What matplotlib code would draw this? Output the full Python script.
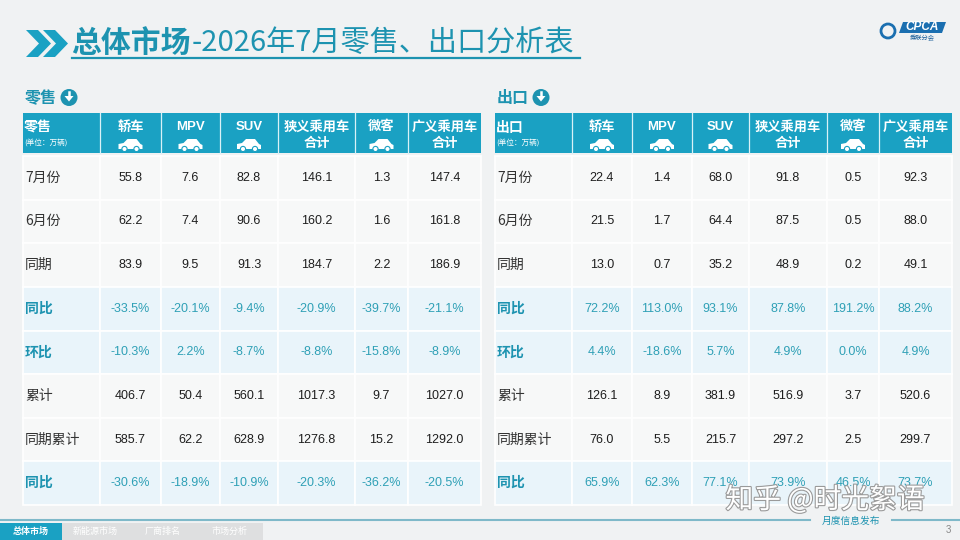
import matplotlib
matplotlib.use("Agg")
from matplotlib import pyplot as plt
from matplotlib.patches import Rectangle, Polygon, Circle
import matplotlib.patheffects as pe

plt.rcParams['font.family'] = ['Liberation Sans', 'Noto Sans CJK SC', 'DejaVu Sans']

# ---- data ----
row_labels = ['7月份', '6月份', '同期', '同比', '环比', '累计', '同期累计', '同比']
col_labels = ['轿车', 'MPV', 'SUV', '狭义乘用车\n合计', '微客', '广义乘用车\n合计']
pct_rows = [3, 4, 7]

retail = [
    ['55.8', '7.6', '82.8', '146.1', '1.3', '147.4'],
    ['62.2', '7.4', '90.6', '160.2', '1.6', '161.8'],
    ['83.9', '9.5', '91.3', '184.7', '2.2', '186.9'],
    ['-33.5%', '-20.1%', '-9.4%', '-20.9%', '-39.7%', '-21.1%'],
    ['-10.3%', '2.2%', '-8.7%', '-8.8%', '-15.8%', '-8.9%'],
    ['406.7', '50.4', '560.1', '1017.3', '9.7', '1027.0'],
    ['585.7', '62.2', '628.9', '1276.8', '15.2', '1292.0'],
    ['-30.6%', '-18.9%', '-10.9%', '-20.3%', '-36.2%', '-20.5%'],
]
export = [
    ['22.4', '1.4', '68.0', '91.8', '0.5', '92.3'],
    ['21.5', '1.7', '64.4', '87.5', '0.5', '88.0'],
    ['13.0', '0.7', '35.2', '48.9', '0.2', '49.1'],
    ['72.2%', '113.0%', '93.1%', '87.8%', '191.2%', '88.2%'],
    ['4.4%', '-18.6%', '5.7%', '4.9%', '0.0%', '4.9%'],
    ['126.1', '8.9', '381.9', '516.9', '3.7', '520.6'],
    ['76.0', '5.5', '215.7', '297.2', '2.5', '299.7'],
    ['65.9%', '62.3%', '77.1%', '73.9%', '46.5%', '73.7%'],
]
tabs = ['总体市场', '新能源市场', '厂商排名', '市场分析']

TEAL = '#1aa1c3'
TEAL_TXT = '#1d93b0'
PCT = '#2fa0b6'
CJK = ['Noto Sans CJK SC', 'DejaVu Sans']

fig = plt.figure(figsize=(9.6, 5.4), dpi=100)
fig.patch.set_facecolor('#f0f2f3')
ax = fig.add_axes([0, 0, 1, 1])
ax.set_xlim(0, 960)
ax.set_ylim(540, 0)
ax.axis('off')

# title
chev = [(0, 0), (12, 0), (25, 13.5), (12, 27), (0, 27), (13, 13.5)]
for dx in (26, 43):
    ax.add_patch(Polygon([(x + dx, y + 30) for x, y in chev], color=TEAL, lw=0))
ax.text(71, 43, '总体市场', fontsize=21.5, fontweight='bold', color=TEAL_TXT,
        family=CJK, va='center', ha='left')
ax.text(192, 43, '-2026年7月零售、出口分析表', fontsize=21, color=TEAL_TXT,
        family=CJK, va='center', ha='left')
ax.plot([72, 580], [57.5, 57.5], color=TEAL_TXT, lw=1.6)

# logo
ax.add_patch(Polygon([(903, 22), (946, 22), (942, 33), (899, 33)], color='#1b6fb0', lw=0))
ax.text(922, 27.5, 'CPCA', fontsize=8.5, fontstyle='italic', fontweight='bold',
        color='white', ha='center', va='center')
ax.text(922, 38, '乘联分会', fontsize=4.5, color='#1b5f9a', family=CJK, ha='center', va='center')
ax.add_patch(Circle((888, 31), 7, facecolor='none', edgecolor='#1b6fb0', lw=2))


def car(cx, cy):
    body = [(-12, 4), (-12, -1), (-7, -2), (-3, -6), (6, -6), (10, -1), (12, 0), (12, 4)]
    ax.add_patch(Polygon([(cx + x, cy + y) for x, y in body], color='white', lw=0))
    for wx in (-6, 6):
        ax.add_patch(Circle((cx + wx, cy + 4), 2.6, facecolor='white', edgecolor=TEAL, lw=0.8))


def table(x0, edges, title, data):
    # section title
    ax.text(x0 + 2, 98, title, fontsize=11.5, fontweight='bold', color=TEAL_TXT,
            family=CJK, va='center', ha='left')
    ax.add_patch(Circle((x0 + 46, 97.5), 8.5, color=TEAL_TXT, lw=0))
    ax.add_patch(Polygon([(x0 + 41.5, 96), (x0 + 50.5, 96), (x0 + 46, 101.5)], color='white', lw=0))
    ax.plot([x0 + 46, x0 + 46], [92, 97], color='white', lw=1.8)

    top, hb = 113, 153
    ax.add_patch(Rectangle((edges[0], top), edges[-1] - edges[0], hb - top, color=TEAL, lw=0))
    for e in edges[1:-1]:
        ax.plot([e, e], [top, hb], color='#d9f1f7', lw=0.9)
    ax.text(edges[0] + 1, 128, title, fontsize=10, fontweight='bold', color='white',
            family=CJK, ha='left', va='center')
    ax.text(edges[0] + 1, 143, '(单位：万辆)', fontsize=5.5, color='white',
            family=CJK, ha='left', va='center')
    for j, lab in enumerate(col_labels):
        cx = (edges[j + 1] + edges[j + 2]) / 2
        if '\n' in lab:
            a, b = lab.split('\n')
            ax.text(cx, 127, a, fontsize=9.5, fontweight='bold', color='white',
                    family=CJK, ha='center', va='center')
            ax.text(cx, 143, b, fontsize=9.5, fontweight='bold', color='white',
                    family=CJK, ha='center', va='center')
        else:
            ax.text(cx, 127, lab, fontsize=9.5, fontweight='bold', color='white',
                    family=['Liberation Sans', 'Noto Sans CJK SC'], ha='center', va='center')
            car(cx, 145)

    rh = (505 - 156) / len(row_labels)
    for i, lab in enumerate(row_labels):
        y = 156 + i * rh
        pct = i in pct_rows
        bg = '#e9f4fa' if pct else '#f7f8f8'
        for j in range(len(edges) - 1):
            ax.add_patch(Rectangle((edges[j], y), edges[j + 1] - edges[j], rh,
                                   facecolor=bg, edgecolor='white', lw=1.2))
        yc = y + rh / 2
        ax.text(edges[0] + 2, yc, lab, fontsize=10, family=CJK,
                fontweight='bold' if pct else 'normal',
                color=TEAL_TXT if pct else '#333333', ha='left', va='center')
        for j, v in enumerate(data[i]):
            cx = (edges[j + 1] + edges[j + 2]) / 2
            ax.text(cx, yc, v, fontsize=9, color=PCT if pct else '#1e1e1e',
                    ha='center', va='center')


table(23, [23, 100, 161, 220, 278, 355, 408, 481], '零售', retail)
table(495, [495, 572, 632, 692, 749, 827, 879, 952], '出口', export)

# footer
ax.plot([0, 810], [519.5, 519.5], color='#7fb9c9', lw=1.5)
ax.plot([892, 960], [519.5, 519.5], color='#7fb9c9', lw=1.5)
ax.text(851, 521, '月度信息发布', fontsize=7, fontstyle='italic', color=TEAL_TXT,
        family=CJK, ha='center', va='center')
ax.text(948, 530, '3', fontsize=7, color='#888888', ha='center', va='center')
tab_edges = [0, 62, 129, 197, 263]
for k, name in enumerate(tabs):
    ax.add_patch(Rectangle((tab_edges[k], 523), tab_edges[k + 1] - tab_edges[k], 17,
                           color=TEAL if k == 0 else '#dedfe0', lw=0))
    ax.text((tab_edges[k] + tab_edges[k + 1]) / 2, 531.5, name, fontsize=6.5,
            fontweight='bold' if k == 0 else 'normal',
            color='white', family=CJK, ha='center', va='center')

# watermark (sits over the last row in the source image too)
ax.text(825, 500, '知乎 @时光絮语', fontsize=20, color='white', family=CJK,
        ha='center', va='center',
        path_effects=[pe.withStroke(linewidth=1.6, foreground='#9a9a9a')])

fig.savefig('out.png', dpi=100, facecolor=fig.get_facecolor())
